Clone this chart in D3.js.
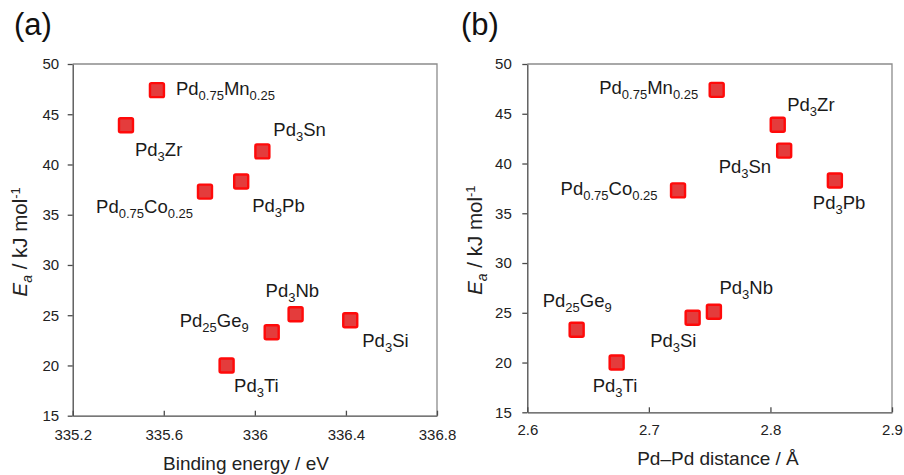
<!DOCTYPE html>
<html>
<head>
<meta charset="utf-8">
<script src="https://cdn.jsdelivr.net/npm/d3@7"></script>
<style>
  body { margin: 0; background: #fff; }
  svg { font-family: 'Liberation Sans', Arial, sans-serif; }
  .axis path, .axis line { stroke: #4a4a4a; stroke-width: 1.3; }
  .axis text { font-size: 15px; fill: #222; }
  .frame { stroke: #8c8c8c; stroke-width: 1.3; fill: none; }
  .label { font-size: 18.5px; fill: #1a1a1a; }
  .title { font-size: 19px; fill: #222; }
  .ytitle { font-size: 20.5px; fill: #222; }
  .panel-tag { font-size: 31px; fill: #111; }
</style>
</head>
<body>
<svg id="chart" width="904" height="475"></svg>
<script>
  // Alloy names, shared by both panels.
  var alloys = ['Pd0.75Mn0.25', 'Pd3Zr', 'Pd3Sn', 'Pd3Pb', 'Pd0.75Co0.25', 'Pd3Nb', 'Pd25Ge9', 'Pd3Si', 'Pd3Ti'];

  // Activation energy, kJ/mol.
  var activationEnergy = [47.4, 43.9, 41.3, 38.3, 37.3, 25.1, 23.3, 24.5, 20.0];

  // Pd 3d binding energy, eV (panel a).
  var bindingEnergy = [335.57, 335.434, 336.033, 335.94, 335.781, 336.179, 336.074, 336.419, 335.876];

  // Pd-Pd distance, Angstrom (panel b).
  var pdDistance = [2.7558, 2.806, 2.8113, 2.853, 2.724, 2.7535, 2.6406, 2.736, 2.6735];

  var yTicks = [15, 20, 25, 30, 35, 40, 45, 50];
  var xTicksA = [335.2, 335.6, 336, 336.4, 336.8];
  var xTicksB = [2.6, 2.7, 2.8, 2.9];

  // Label placement relative to each marker: [dx, dy, anchor].
  var labelPosA = [[19, 5, 'start'], [9, 31, 'start'], [11, -15, 'start'], [11, 30.5, 'start'], [-12, 21, 'end'],
                   [-30, -17, 'start'], [-23, -5.5, 'end'], [12, 26.5, 'start'], [7.5, 27, 'start']];
  var labelPosB = [[-18.5, 4.5, 'end'], [9.5, -13.5, 'start'], [-13, 22, 'end'], [-22, 28.5, 'start'], [-20.5, 4.5, 'end'],
                   [5.5, -17.5, 'start'], [-34, -22.5, 'start'], [-42.5, 29, 'start'], [-24, 29.5, 'start']];

  var svg = d3.select('#chart');

  // Split 'Pd0.75Mn0.25' into [['Pd','0.75'], ['Mn','0.25']].
  function formulaParts(name) {
    var parts = [];
    name.replace(/([A-Z][a-z]?)([\d.]*)/g, function(m, sym, num) {
      parts.push([sym, num]);
    });
    return parts;
  }

  function writeFormula(text, name) {
    var shifted = false;
    formulaParts(name).forEach(function(p) {
      text.append('tspan').attr('dy', shifted ? -5 : null).text(p[0]);
      shifted = false;
      if (p[1]) {
        text.append('tspan').attr('dy', 5).style('font-size', '13px').text(p[1]);
        shifted = true;
      }
    });
  }

  function drawPanel(opts) {
    var g = svg.append('g');
    var x = d3.scaleLinear().domain(opts.xDomain).range([opts.left, opts.right]);
    var y = d3.scaleLinear().domain([15, 50]).range([opts.bottom, opts.top]);

    // Light frame on top and right.
    g.append('path')
      .attr('class', 'frame')
      .attr('d', 'M' + opts.left + ',' + opts.top + 'H' + opts.right + 'V' + opts.bottom);

    var yAxis = d3.axisLeft(y)
      .tickValues(yTicks)
      .tickSizeInner(5)
      .tickSizeOuter(0)
      .tickPadding(opts.yPad)
      .tickFormat(d3.format('d'));

    var xAxis = d3.axisBottom(x)
      .tickValues(opts.xTicks)
      .tickSizeInner(-5)
      .tickSizeOuter(0)
      .tickPadding(opts.xPad)
      .tickFormat(d3.format('~f'));

    g.append('g')
      .attr('class', 'axis')
      .attr('transform', 'translate(0,' + opts.bottom + ')')
      .call(xAxis)
      .selectAll('text').attr('font-family', null).attr('font-size', null);

    g.append('g')
      .attr('class', 'axis')
      .attr('transform', 'translate(' + opts.left + ',0)')
      .call(yAxis)
      .selectAll('text').attr('font-family', null).attr('font-size', null);

    // Markers.
    g.selectAll('.dot')
      .data(alloys)
      .enter().append('rect')
      .attr('class', 'dot')
      .attr('x', function(d, i) { return x(opts.xValues[i]) - 7; })
      .attr('y', function(d, i) { return y(activationEnergy[i]) - 7; })
      .attr('width', 14)
      .attr('height', 14)
      .attr('rx', 1.5)
      .style('fill', '#e43c3c')
      .style('stroke', '#ff0a0a')
      .style('stroke-width', 2.4);

    // Formula labels.
    g.selectAll('.label')
      .data(alloys)
      .enter().append('text')
      .attr('class', 'label')
      .attr('x', function(d, i) { return x(opts.xValues[i]) + opts.labelPos[i][0]; })
      .attr('y', function(d, i) { return y(activationEnergy[i]) + opts.labelPos[i][1]; })
      .attr('text-anchor', function(d, i) { return opts.labelPos[i][2]; })
      .each(function(d) { writeFormula(d3.select(this), d); });

    // x-axis title.
    g.append('text')
      .attr('class', 'title')
      .attr('text-anchor', 'middle')
      .attr('x', opts.xTitleX)
      .attr('y', opts.xTitleY)
      .text(opts.xTitle);

    // y-axis title: E_a / kJ mol^-1
    var yt = g.append('text')
      .attr('class', 'ytitle')
      .attr('text-anchor', 'middle')
      .attr('transform', 'translate(' + opts.yTitleX + ',' + ((opts.top + opts.bottom) / 2 + 2) + ') rotate(-90)');
    yt.append('tspan').style('font-style', 'italic').text('E');
    yt.append('tspan').attr('dy', 5).style('font-size', '14px').style('font-style', 'italic').text('a');
    yt.append('tspan').attr('dy', -5).text(' / kJ mol');
    yt.append('tspan').attr('dy', -7.5).style('font-size', '13px').text('-1');

    // Panel tag.
    g.append('text')
      .attr('class', 'panel-tag')
      .attr('x', opts.tagX)
      .attr('y', 35)
      .text(opts.tag);
  }

  drawPanel({
    tag: '(a)', tagX: 14,
    left: 72.7, right: 437, top: 64, bottom: 415.7,
    xDomain: [335.2, 336.8], xTicks: xTicksA, xValues: bindingEnergy,
    labelPos: labelPosA, yPad: 8.5, xPad: 13.5,
    xTitle: 'Binding energy / eV', xTitleX: 246, xTitleY: 470, yTitleX: 27
  });

  drawPanel({
    tag: '(b)', tagX: 461,
    left: 527.3, right: 892, top: 64, bottom: 412.3,
    xDomain: [2.6, 2.9], xTicks: xTicksB, xValues: pdDistance,
    labelPos: labelPosB, yPad: 10.5, xPad: 12,
    xTitle: 'Pd\u2013Pd distance / \u00c5', xTitleX: 718, xTitleY: 465, yTitleX: 482
  });
</script>
</body>
</html>
